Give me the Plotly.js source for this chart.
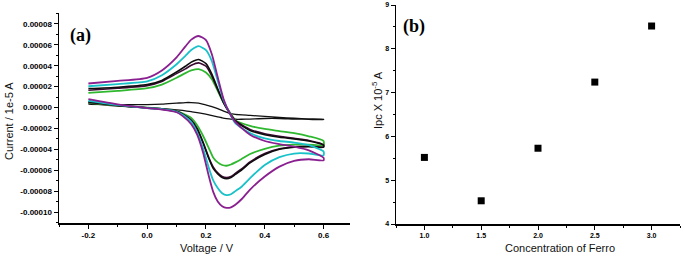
<!DOCTYPE html>
<html>
<head>
<meta charset="utf-8">
<script src="https://cdn.plot.ly/plotly-3.0.1.min.js"></script>
<style>html,body{margin:0;padding:0;background:#fff;}#chart{width:685px;height:259px;}</style>
</head>
<body>
<div id="chart"></div>
<script>
// ---- Panel (a): cyclic voltammograms (current in units of 1e-5 A) ----
const voltForward = [-0.2, -0.1, 0.0, 0.05, 0.1, 0.13, 0.15, 0.175, 0.2, 0.22, 0.24, 0.26, 0.28, 0.3, 0.35, 0.4, 0.45, 0.5, 0.55, 0.6];
const voltReverse = [0.6, 0.55, 0.5, 0.45, 0.4, 0.35, 0.32, 0.3, 0.285, 0.27, 0.255, 0.24, 0.225, 0.21, 0.19, 0.17, 0.15, 0.12, 0.1, 0.05, 0.0, -0.1, -0.2];

const purpleUp   = [2.30, 2.55, 2.85, 3.55, 4.80, 5.85, 6.50, 6.85, 6.45, 5.10, 2.90, 0.80, -0.50, -1.40, -2.60, -3.20, -3.50, -3.75, -4.10, -4.80];
const purpleDown = [-5.05, -4.95, -5.10, -5.65, -6.60, -7.85, -8.80, -9.30, -9.55, -9.60, -9.45, -9.00, -8.10, -6.60, -4.30, -2.60, -1.60, -0.80, -0.45, -0.20, -0.05, 0.30, 0.80];

const cyanUp   = [2.04, 2.25, 2.50, 3.10, 4.15, 4.95, 5.50, 5.87, 5.50, 4.45, 2.55, 0.70, -0.50, -1.50, -2.45, -2.95, -3.20, -3.35, -3.60, -4.20];
const cyanDown = [-4.57, -4.40, -4.40, -4.75, -5.50, -6.75, -7.60, -8.00, -8.30, -8.38, -8.20, -7.70, -7.00, -5.80, -3.90, -2.40, -1.40, -0.70, -0.40, -0.15, -0.05, 0.25, 0.65];

const blackUp   = [1.82, 1.95, 2.20, 2.60, 3.40, 3.95, 4.35, 4.60, 4.20, 3.20, 1.80, 0.50, -0.50, -1.30, -2.20, -2.60, -2.85, -3.00, -3.20, -3.60];
const blackDown = [-3.80, -3.75, -3.80, -4.00, -4.50, -5.30, -6.00, -6.40, -6.70, -6.82, -6.70, -6.35, -5.85, -4.90, -3.40, -2.10, -1.30, -0.65, -0.40, -0.15, -0.05, 0.20, 0.55];

const maroonUp   = [1.66, 1.85, 2.10, 2.50, 3.25, 3.70, 4.05, 4.28, 3.95, 3.00, 1.70, 0.45, -0.50, -1.25, -2.10, -2.50, -2.75, -2.95, -3.15, -3.55];
const maroonDown = [-3.75, -3.70, -3.75, -3.95, -4.40, -5.20, -5.90, -6.30, -6.60, -6.70, -6.60, -6.25, -5.70, -4.80, -3.30, -2.00, -1.20, -0.60, -0.35, -0.12, -0.02, 0.22, 0.50];

const greenUp   = [1.40, 1.60, 1.85, 2.20, 2.85, 3.30, 3.55, 3.68, 3.35, 2.70, 1.60, 0.45, -0.40, -1.20, -1.75, -2.05, -2.25, -2.45, -2.75, -3.20];
const greenDown = [-3.60, -3.55, -3.55, -3.65, -3.95, -4.45, -4.95, -5.25, -5.45, -5.57, -5.50, -5.25, -4.80, -3.90, -2.70, -1.70, -1.00, -0.55, -0.35, -0.12, 0.00, 0.20, 0.45];

const blankUp   = [0.30, 0.28, 0.28, 0.32, 0.42, 0.48, 0.48, 0.42, 0.25, 0.10, -0.10, -0.35, -0.55, -0.65, -0.75, -0.85, -0.95, -1.02, -1.08, -1.12];
const blankDown = [-1.15, -1.13, -1.10, -1.05, -1.05, -1.10, -1.12, -1.12, -1.10, -1.05, -0.98, -0.90, -0.80, -0.70, -0.58, -0.48, -0.40, -0.28, -0.22, -0.10, -0.02, 0.15, 0.35];

const cvTickVals = [-0.0001, -0.00008, -0.00006, -0.00004, -0.00002, 0, 0.00002, 0.00004, 0.00006, 0.00008];
const cvTickText = ["-0.00010", "-0.00008", "-0.00006", "-0.00004", "-0.00002", "0.00000", "0.00002", "0.00004", "0.00006", "0.00008"];
const voltTickVals = [-0.2, 0.0, 0.2, 0.4, 0.6];
const voltTickText = ["-0.2", "0.0", "0.2", "0.4", "0.6"];

// ---- Panel (b): Ipc vs concentration ----
const concentration = [1.0, 1.5, 2.0, 2.5, 3.0];
const ipc = [5.52, 4.53, 5.73, 7.24, 8.52];
const concTickVals = [1.0, 1.5, 2.0, 2.5, 3.0];
const concTickText = ["1.0", "1.5", "2.0", "2.5", "3.0"];
const ipcTickVals = [4, 5, 6, 7, 8, 9];
const ipcTickText = ["4", "5", "6", "7", "8", "9"];

const SCALE = 1e-5;
function loop(up, down, color, width) {
  return {
    type: 'scatter', mode: 'lines',
    x: voltForward.concat(voltReverse),
    y: up.concat(down).map(v => v * SCALE),
    line: {color: color, width: width, shape: 'spline', smoothing: 0.6},
    xaxis: 'x', yaxis: 'y', showlegend: false, hoverinfo: 'skip'
  };
}

const traces = [
  loop(blankUp, blankDown, '#111111', 1.3),
  loop(greenUp, greenDown, '#2fb82f', 1.8),
  loop(maroonUp, maroonDown, '#3c0b32', 1.6),
  loop(blackUp, blackDown, '#0d0d0d', 1.6),
  loop(cyanUp, cyanDown, '#19c2c9', 1.8),
  loop(purpleUp, purpleDown, '#8a1f90', 1.8),
  {
    type: 'scatter', mode: 'markers',
    x: concentration, y: ipc,
    marker: {symbol: 'square', size: 7, color: '#000'},
    xaxis: 'x2', yaxis: 'y2', showlegend: false
  }
];

const tickFont = {family: 'Liberation Sans, Arial, sans-serif', size: 8, color: '#000', weight: 'bold'};
const titleFont = {family: 'Liberation Sans, Arial, sans-serif', size: 11, color: '#111'};
const axisCommon = {
  showgrid: false, zeroline: false, showline: true, linecolor: '#000', linewidth: 1.5,
  ticks: 'outside', ticklen: 4, tickwidth: 1, tickcolor: '#000', mirror: false,
  tickfont: tickFont
};

const layout = {
  width: 685, height: 259,
  margin: {l: 0, r: 0, t: 0, b: 0},
  paper_bgcolor: '#fff', plot_bgcolor: '#fff',
  showlegend: false,
  xaxis: Object.assign({}, axisCommon, {
    domain: [59/685, 350/685], range: [-0.3, 0.69], anchor: 'y',
    tickvals: voltTickVals, ticktext: voltTickText,
    minor: {ticks: 'outside', ticklen: 2, tickwidth: 1, tickcolor: '#000', dtick: 0.1, tick0: -0.3}
  }),
  yaxis: Object.assign({}, axisCommon, {
    domain: [(259-223)/259, (259-13)/259], range: [-0.0001105, 0.0000905], anchor: 'x',
    tickvals: cvTickVals, ticktext: cvTickText,
    minor: {ticks: 'outside', ticklen: 2, tickwidth: 1, tickcolor: '#000', dtick: 0.00001, tick0: 0}
  }),
  xaxis2: Object.assign({}, axisCommon, {
    domain: [396/685, 680/685], range: [0.75, 3.25], anchor: 'y2',
    tickvals: concTickVals, ticktext: concTickText,
    tickfont: Object.assign({}, tickFont, {size: 7}),
    minor: {ticks: 'outside', ticklen: 2, tickwidth: 1, tickcolor: '#000', dtick: 0.25, tick0: 0.75}
  }),
  yaxis2: Object.assign({}, axisCommon, {
    domain: [(259-224)/259, (259-5)/259], range: [4, 9], anchor: 'x2',
    tickvals: ipcTickVals, ticktext: ipcTickText,
    tickfont: Object.assign({}, tickFont, {size: 7}),
    minor: {ticks: 'outside', ticklen: 2, tickwidth: 1, tickcolor: '#000', dtick: 0.5, tick0: 4}
  }),
  annotations: [
    {text: 'Current / 1e-5 A', xref: 'paper', yref: 'paper', x: 9/685, y: 1 - 121/259,
     textangle: -90, showarrow: false, xanchor: 'center', yanchor: 'middle', font: titleFont},
    {text: 'Voltage / V', xref: 'paper', yref: 'paper', x: 207/685, y: 1 - 248/259,
     showarrow: false, xanchor: 'center', yanchor: 'middle', font: titleFont},
    {text: 'Ipc X 10<sup>-5</sup> A', xref: 'paper', yref: 'paper', x: 377/685, y: 1 - 100/259,
     textangle: -90, showarrow: false, xanchor: 'center', yanchor: 'middle', font: titleFont},
    {text: 'Concentration of Ferro', xref: 'paper', yref: 'paper', x: 560/685, y: 1 - 248/259,
     showarrow: false, xanchor: 'center', yanchor: 'middle', font: titleFont},
    {text: '<b>(a)</b>', xref: 'paper', yref: 'paper', x: 80/685, y: 1 - 36/259,
     showarrow: false, xanchor: 'center', yanchor: 'middle',
     font: {family: 'Liberation Serif, Times New Roman, serif', size: 18, color: '#000'}},
    {text: '<b>(b)</b>', xref: 'paper', yref: 'paper', x: 414/685, y: 1 - 26/259,
     showarrow: false, xanchor: 'center', yanchor: 'middle',
     font: {family: 'Liberation Serif, Times New Roman, serif', size: 18, color: '#000'}}
  ]
};

Plotly.newPlot('chart', traces, layout, {staticPlot: true, displayModeBar: false});
</script>
</body>
</html>
